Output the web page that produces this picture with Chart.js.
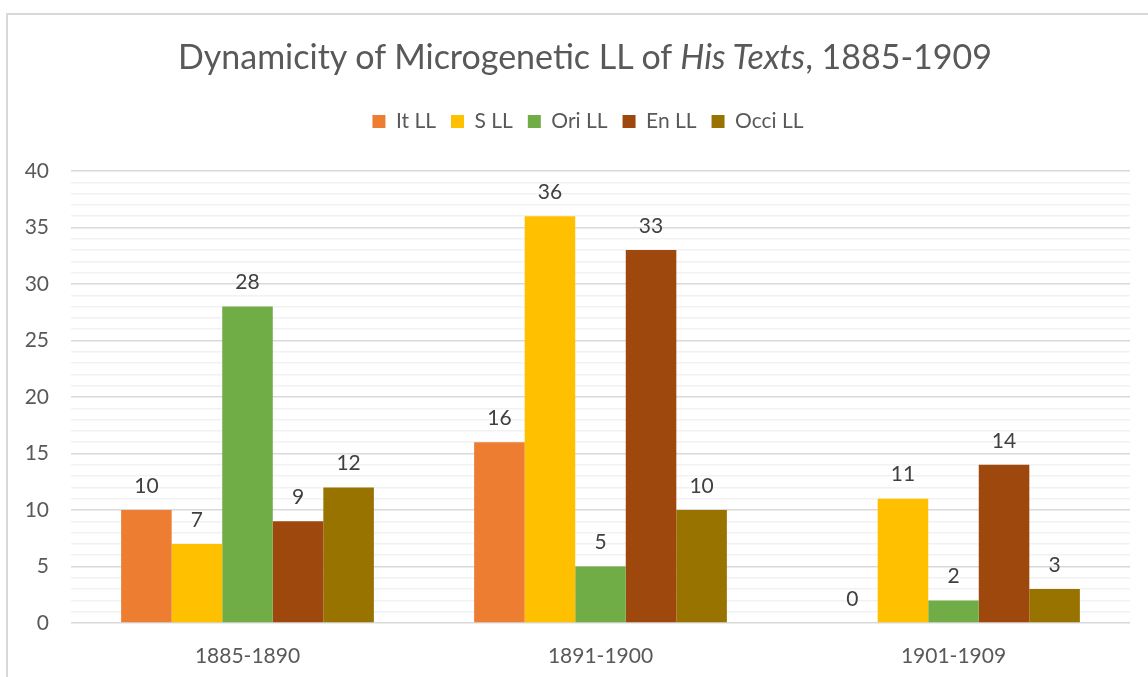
<!DOCTYPE html>
<html>
<head>
<meta charset="utf-8">
<script src="https://cdn.jsdelivr.net/npm/chart.js@4/dist/chart.umd.min.js"></script>
<style>
  html, body { margin: 0; padding: 0; background: #fff; overflow: hidden; }
  #wrap { position: relative; width: 1148px; height: 677px; }
  #frame { position: absolute; left: 6px; top: 13px; width: 1200px; height: 700px;
           border-left: 2px solid #d9d9d9; border-top: 2px solid #d9d9d9; }
  #title { position: absolute; left: 11px; width: 1148px; top: 36px; text-align: center;
           font-family: Lato, sans-serif; font-size: 34px; color: #595959; line-height: 40px; }
  canvas { position: absolute; left: 0; top: 0; }
</style>
</head>
<body>
<div id="wrap">
  <div id="frame"></div>
  <canvas id="chart" width="1148" height="677"></canvas>
  <div id="title">Dynamicity of Microgenetic LL of <i>His Texts</i>, 1885-1909</div>
</div>
<script>
const periods = ['1885-1890', '1891-1900', '1901-1909'];
const seriesNames = ['It LL', 'S LL', 'Ori LL', 'En LL', 'Occi LL'];
const itLL = [10, 16, 0];
const sLL = [7, 36, 11];
const oriLL = [28, 5, 2];
const enLL = [9, 33, 14];
const occiLL = [12, 10, 3];
const colors = ['#ED7D31', '#FFC000', '#70AD47', '#9E480E', '#997300'];

const font = 'Lato, sans-serif';

// value labels above each bar (no datalabels plugin available offline)
const valueLabels = {
  id: 'valueLabels',
  afterInit(chart) {
    // leave extra room under the legend, and nudge it like the original
    const lg = chart.legend;
    const fit = lg.fit;
    lg.fit = function () {
      fit.call(this);
      this.height += 33;
    };
    const draw = lg.draw;
    lg.draw = function () {
      this.ctx.save();
      this.ctx.translate(23, 4);
      draw.call(this);
      this.ctx.restore();
    };
  },
  afterDatasetsDraw(chart) {
    const ctx = chart.ctx;
    ctx.save();
    ctx.font = '21px ' + font;
    ctx.fillStyle = '#404040';
    ctx.textAlign = 'center';
    ctx.textBaseline = 'middle';
    chart.data.datasets.forEach((ds, i) => {
      chart.getDatasetMeta(i).data.forEach((bar, j) => {
        ctx.fillText(ds.data[j], bar.x, bar.y - 24);
      });
    });
    ctx.restore();
  }
};

const allSeries = [itLL, sLL, oriLL, enLL, occiLL];

new Chart(document.getElementById('chart').getContext('2d'), {
  type: 'bar',
  data: {
    labels: periods,
    datasets: allSeries.map((d, i) => ({
      label: seriesNames[i],
      data: d,
      backgroundColor: colors[i],
      borderWidth: 0,
      barPercentage: 1,
      categoryPercentage: 0.716
    }))
  },
  options: {
    responsive: false,
    animation: false,
    layout: { padding: { top: 92, right: 18, bottom: 0, left: 0 } },
    plugins: {
      legend: {
        position: 'top',
        labels: {
          boxWidth: 13,
          boxHeight: 13,
          padding: 15,
          color: '#595959',
          font: { family: font, size: 21 }
        }
      },
      title: { display: false },
      tooltip: { enabled: false }
    },
    scales: {
      x: {
        grid: { display: false },
        border: { display: false },
        ticks: { color: '#595959', font: { family: font, size: 21 }, padding: 13 },
        afterFit(scale) { scale.height = 54; }
      },
      y: {
        min: 0,
        max: 40,
        border: { display: false },
        grid: {
          drawTicks: false,
          color: c => (c.tick.value % 5 === 0 ? '#d9d9d9' : '#f2f2f2'),
          lineWidth: 1.5
        },
        ticks: {
          stepSize: 1,
          autoSkip: false,
          padding: 22,
          color: '#595959',
          font: { family: font, size: 21 },
          callback: v => (v % 5 === 0 ? v : '')
        },
        afterFit(scale) { scale.width = 71; }
      }
    }
  },
  plugins: [valueLabels]
});
</script>
</body>
</html>
